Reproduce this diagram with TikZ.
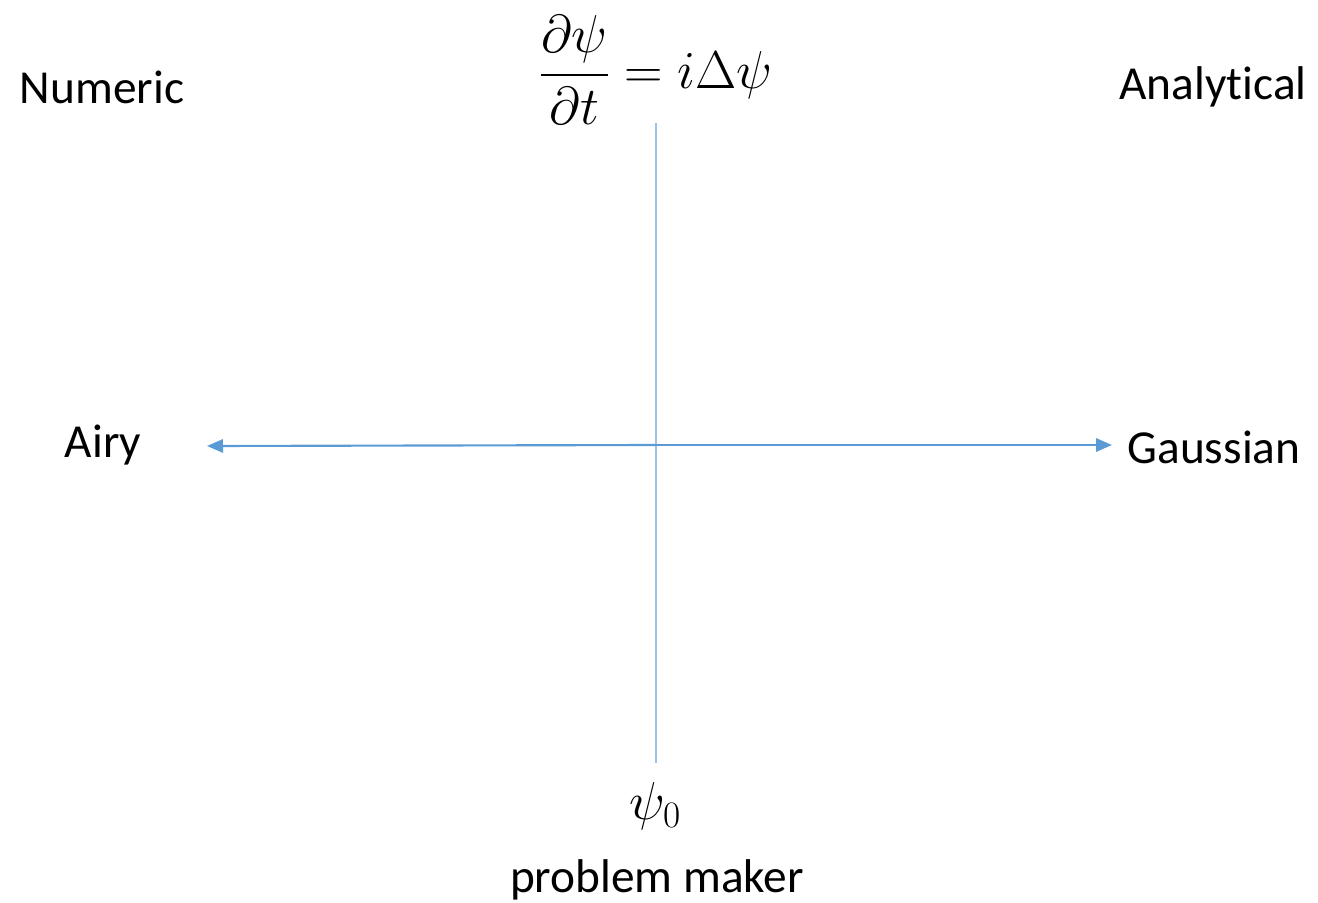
\RequirePackage{fix-cm}
\documentclass[tikz,border=0pt]{standalone}
\usepackage{amsmath}
\usepackage[no-math]{fontspec}
\setmainfont{Carlito}[Ligatures=NoCommon]
\usetikzlibrary{arrows.meta}
\definecolor{axisblue}{RGB}{91,155,213}
\definecolor{vlineblue}{RGB}{157,195,230}
\tikzset{
  lbl/.style={font=\fontsize{35.5}{42}\selectfont, inner sep=0pt},
  mathlbl/.style={font=\fontsize{40}{46}\selectfont, inner sep=0pt},
  axisarrow/.style={draw=axisblue, line width=1.6pt, -{Triangle[length=12pt,width=10pt]}},
  vaxis/.style={draw=vlineblue, line width=1.1pt}
}
\begin{document}
\begin{tikzpicture}[x=0.75pt,y=-0.75pt]
\useasboundingbox (0,0) rectangle (1318,903);
\node[lbl] (numeric) at (102,87) {Numeric};
\node[lbl] (analytical) at (1213,87) {Analyt\kern0pt ical};
\node[lbl] (airy) at (103,445) {Airy};
\node[lbl] (gauss) at (1214,447) {Gaussian};
\node[mathlbl] (eq) at (656,70) {$\displaystyle\frac{\partial\psi}{\partial t}=i\Delta\psi$};
\node[mathlbl] (psi0) at (655,806) {$\psi_0$};
\node[lbl] (maker) at (657,880) {problem maker};
\coordinate (top) at (656,123);
\coordinate (bot) at (656,763);
\coordinate (center) at (656,445);
\coordinate (leftend) at (207,446);
\coordinate (rightend) at (1112,445);
\draw[vaxis] (top) -- (bot);
\draw[axisarrow] (center) -- (leftend);
\draw[axisarrow] (center) -- (rightend);
\end{tikzpicture}
\end{document}
